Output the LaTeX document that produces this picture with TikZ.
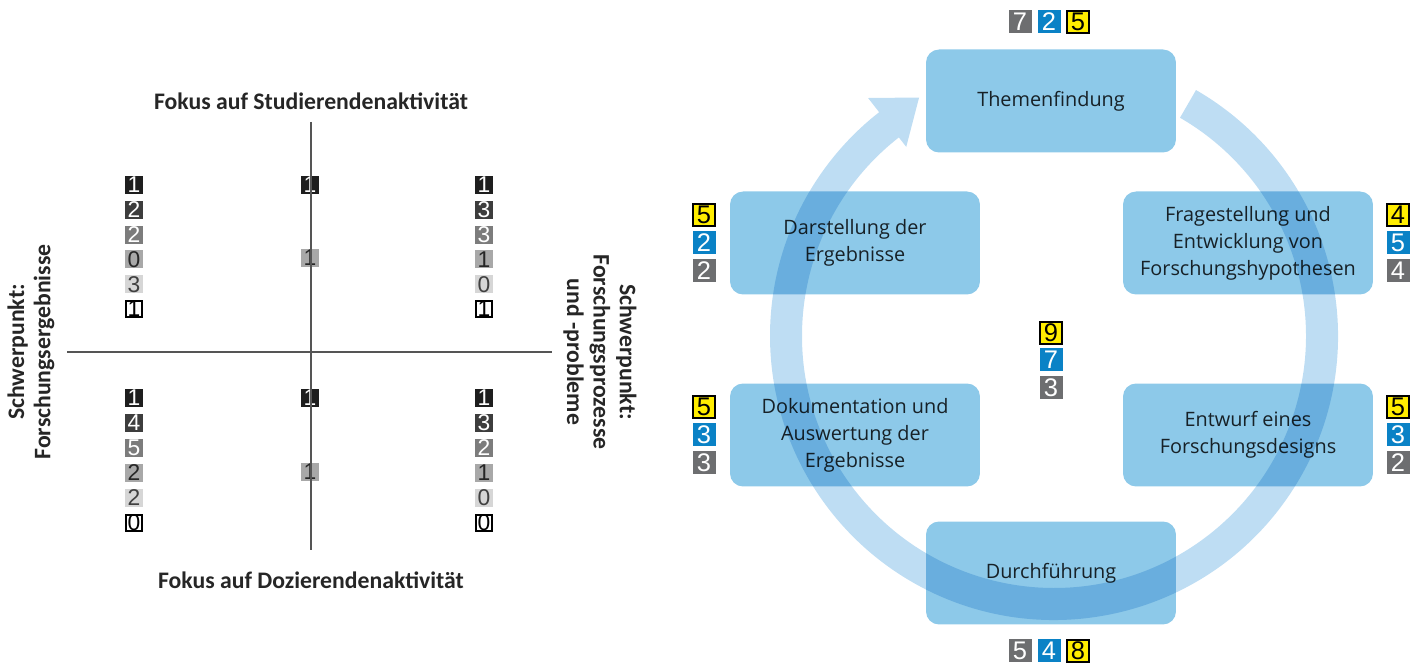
\documentclass[tikz,border=0pt]{standalone}
\usepackage{fontspec}
\setmainfont{Open Sans}
\newfontfamily\labelfont{Carlito}
\newfontfamily\digitfont{Liberation Sans}

\definecolor{axisgray}{HTML}{555555}
\definecolor{lgrayA}{HTML}{1E1E1E}
\definecolor{lgrayB}{HTML}{3D3D3D}
\definecolor{lgrayC}{HTML}{7C7C7C}
\definecolor{lgrayD}{HTML}{A8A8A8}
\definecolor{lgrayE}{HTML}{D6D6D6}
\definecolor{ringblue}{HTML}{BEDDF3}
\definecolor{phaseblue}{HTML}{8DC9E9}
\definecolor{phasetext}{HTML}{2B2B2B}
\definecolor{badgegray}{HTML}{6D6E70}
\definecolor{badgeblue}{HTML}{0A82C6}
\definecolor{badgeyellow}{HTML}{FFED00}

\tikzset{
  axis/.style={draw=axisgray, line width=0.7pt},
  quadlabel/.style={font=\labelfont\bfseries\fontsize{13.5}{15}\selectfont, align=center, text=black!85},
  lbox/.style={minimum size=0.36cm, inner sep=0pt, font=\digitfont\fontsize{13}{13}\selectfont},
  lv1/.style={lbox, fill=lgrayA, text=white},
  lv2/.style={lbox, fill=lgrayB, text=white},
  lv3/.style={lbox, fill=lgrayC, text=white},
  lv4/.style={lbox, fill=lgrayD, text=black!85},
  lv5/.style={lbox, fill=lgrayE, text=black!75},
  lv6/.style={lbox, fill=white, draw=black, line width=1.4pt, text=black, minimum size=0.31cm},
  phase/.style={rounded corners=0.26cm, fill=phaseblue, minimum width=5cm, minimum height=2.06cm,
    align=center, text=phasetext, font=\fontsize{11.3}{15.3}\selectfont},
  badge/.style={minimum size=0.46cm, inner sep=0pt, font=\digitfont\fontsize{14.5}{14.5}\selectfont},
  bgray/.style={badge, fill=badgegray, text=white},
  bblue/.style={badge, fill=badgeblue, text=white},
  byellow/.style={badge, fill=badgeyellow, draw=black, line width=0.6pt, text=black, minimum size=0.44cm}
}

\begin{document}
\begin{tikzpicture}[x=0.02cm, y=0.02cm]
    \useasboundingbox (0,0) rectangle (1423,668);

    % Quadrant: number columns
    \foreach \v [count=\i] in {1,2,2,0,3,1}
      \node[lv\i] (ul\i) at (134,{483-24.8*(\i-1)}) {\v};
    \foreach \v [count=\i] in {1,3,3,1,0,1}
      \node[lv\i] (ur\i) at (484,{483-24.8*(\i-1)}) {\v};
    \foreach \v [count=\i] in {1,4,5,2,2,0}
      \node[lv\i] (ll\i) at (134,{270-25*(\i-1)}) {\v};
    \foreach \v [count=\i] in {1,3,2,1,0,0}
      \node[lv\i] (lr\i) at (484,{270-25*(\i-1)}) {\v};
    \node[lv1] (um1) at (310,483) {1};
    \node[lv4] (um4) at (310,410) {1};
    \node[lv1] (lm1) at (310,270) {1};
    \node[lv4] (lm4) at (310,196) {1};

    % Quadrant: axes
    \coordinate (atop) at (311,546);
    \coordinate (abot) at (311,118);
    \coordinate (aleft) at (67,316);
    \coordinate (aright) at (552,316);
    \draw[axis] (atop) -- (abot);
    \draw[axis] (aleft) -- (aright);

    % Quadrant: labels
    \node[quadlabel] (studlab) at (311,567) {Fokus auf Studierendenaktivität};
    \node[quadlabel] (dozlab) at (311,88) {Fokus auf Dozierendenaktivität};
    \node[quadlabel, rotate=90] (erglab) at (31,316) {Schwerpunkt:\\Forschungsergebnisse};
    \node[quadlabel, rotate=-90] (prozlab) at (600,316) {Schwerpunkt:\\Forschungsprozesse\\und -probleme};

    % Cycle: ring arrow
    \begin{scope}[shift={(1054,332)}]
      \fill[ringblue] (60:284) arc[start angle=60, end angle=-232, radius=284]
        -- (-232:302) -- (-240.5:274) -- (-232:240) -- (-232:252)
        arc[start angle=-232, end angle=60, radius=252] -- cycle;
    \end{scope}

    % Cycle: phases
    \begin{scope}[blend mode=multiply]
      \node[phase] (thema) at (1051,567) {Themenfindung};
      \node[phase] (frage) at (1248,425) {Fragestellung und\\Entwicklung von\\Forschungshypothesen};
      \node[phase] (design) at (1248,233) {Entwurf eines\\Forschungsdesigns};
      \node[phase] (durch) at (1051,95) {Durchführung};
      \node[phase] (doku) at (855,233) {Dokumentation und\\Auswertung der\\Ergebnisse};
      \node[phase] (darst) at (855,425) {Darstellung der\\Ergebnisse};
    \end{scope}

    % Cycle: counts
    \node[bgray] (thg) at (1020,646) {7};
    \node[bblue] (thb) at (1049,646) {2};
    \node[byellow] (thy) at (1078,646) {5};

    \node[byellow] (fry) at (1398,453) {4};
    \node[bblue] (frb) at (1398,425) {5};
    \node[bgray] (frg) at (1398,397) {4};

    \node[byellow] (dey) at (1398,261) {5};
    \node[bblue] (deb) at (1398,233) {3};
    \node[bgray] (deg) at (1398,205) {2};

    \node[bgray] (dug) at (1020,17) {5};
    \node[bblue] (dub) at (1049,17) {4};
    \node[byellow] (duy) at (1078,17) {8};

    \node[byellow] (doy) at (704,261) {5};
    \node[bblue] (dob) at (704,233) {3};
    \node[bgray] (dog) at (704,205) {3};

    \node[byellow] (day) at (704,453) {5};
    \node[bblue] (dab) at (704,425) {2};
    \node[bgray] (dag) at (704,397) {2};

    \node[byellow] (mid1) at (1051,335) {9};
    \node[bblue] (mid2) at (1051,308) {7};
    \node[bgray] (mid3) at (1051,280) {3};
\end{tikzpicture}
\end{document}
